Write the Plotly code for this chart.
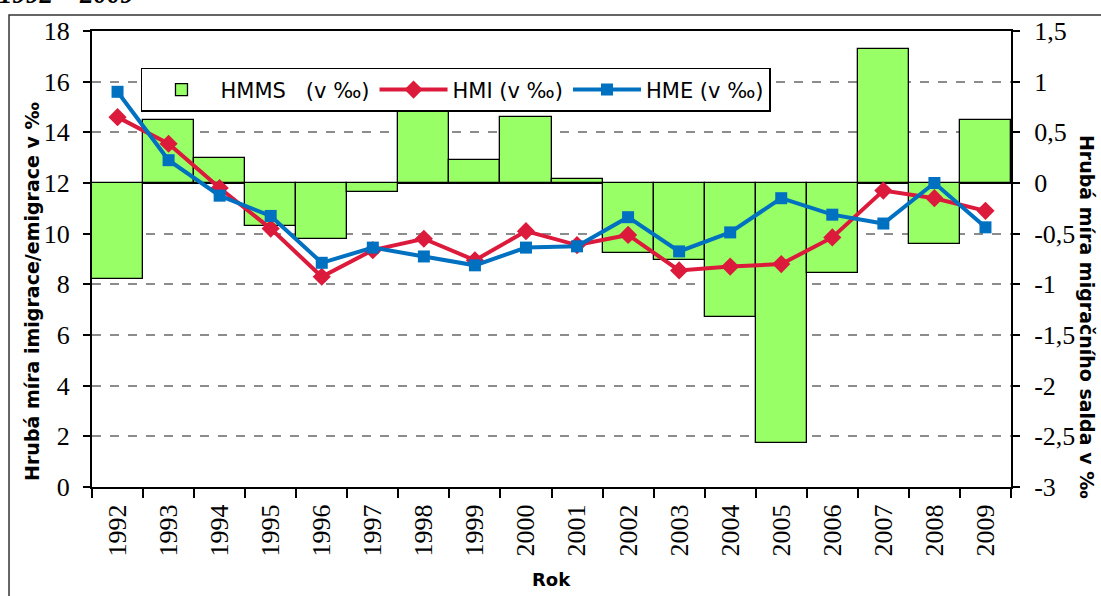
import plotly.graph_objects as go

years = [str(y) for y in range(1992, 2010)]

# hrubá míra migračního salda (pravá osa)
hmms = [-0.95, 0.62, 0.25, -0.42, -0.55, -0.09, 0.73, 0.23, 0.65, 0.04,
        -0.69, -0.76, -1.32, -2.57, -0.89, 1.32, -0.60, 0.62]
# hrubá míra imigrace (levá osa)
hmi = [14.6, 13.55, 11.8, 10.2, 8.3, 9.35, 9.8, 8.95, 10.1, 9.55,
       9.95, 8.55, 8.7, 8.8, 9.85, 11.7, 11.4, 10.9]
# hrubá míra emigrace (levá osa)
hme = [15.6, 12.9, 11.5, 10.7, 8.85, 9.45, 9.1, 8.75, 9.45, 9.5,
       10.65, 9.3, 10.05, 11.4, 10.75, 10.4, 12.0, 10.25]

left_ticks = [0, 2, 4, 6, 8, 10, 12, 14, 16, 18]
right_ticks = [-3, -2.5, -2, -1.5, -1, -0.5, 0, 0.5, 1, 1.5]
right_labels = ["-3", "-2,5", "-2", "-1,5", "-1", "-0,5", "0", "0,5", "1", "1,5"]

tick_font = dict(family="Liberation Serif", size=26, color="black")
sans = "DejaVu Sans"

fig = go.Figure()

# sloupce salda (primární osa vpravo, aby čáry byly nad nimi)
fig.add_trace(go.Bar(
    x=years, y=hmms, name="HMMS\u00a0\u00a0\u00a0(v ‰)",
    marker=dict(color="#99FF66", line=dict(color="black", width=1.3)),
    width=1, yaxis="y"
))

fig.add_trace(go.Scatter(
    x=years, y=hmi, name="HMI (v ‰)", mode="lines+markers",
    line=dict(color="#DC1A3C", width=4),
    marker=dict(symbol="diamond", size=14, color="#DC1A3C"),
    yaxis="y2"
))

fig.add_trace(go.Scatter(
    x=years, y=hme, name="HME (v ‰)", mode="lines+markers",
    line=dict(color="#0070C0", width=4),
    marker=dict(symbol="square", size=12, color="#0070C0"),
    yaxis="y2"
))

fig.update_layout(
    width=1101, height=596,
    margin=dict(l=92, r=90, t=31, b=109),
    paper_bgcolor="white", plot_bgcolor="white",
    bargap=0,
    showlegend=True,
    legend=dict(
        orientation="h", x=0.0533, y=0.919, xanchor="left", yanchor="top",
        bgcolor="white", bordercolor="black", borderwidth=1.5,
        font=dict(family=sans, size=21, color="black"),
        traceorder="normal", itemwidth=68,
    ),
    xaxis=dict(
        type="category", range=[-0.5, 17.5], tickangle=-90, tickfont=tick_font,
        showline=True, linecolor="black", linewidth=2, mirror=True,
        ticks="outside", ticklen=9, tickcolor="black", tickwidth=1.5,
        tickson="boundaries", showgrid=False, ticklabelstandoff=5,
    ),
    yaxis=dict(
        side="right", range=[-3, 1.5],
        tickvals=right_ticks, ticktext=right_labels, tickfont=tick_font,
        showline=True, linecolor="black", linewidth=2,
        ticks="outside", ticklen=7, tickcolor="black", tickwidth=1.5,
        showgrid=True, gridcolor="#8c8c8c", gridwidth=1.5, griddash="dash",
        zeroline=True, zerolinecolor="black", zerolinewidth=2,
        ticklabelstandoff=9,
    ),
    yaxis2=dict(
        side="left", overlaying="y", anchor="x", range=[0, 18],
        tickvals=left_ticks, tickfont=tick_font,
        showline=True, linecolor="black", linewidth=2,
        ticks="outside", ticklen=7, tickcolor="black", tickwidth=1.5,
        showgrid=False, zeroline=False, ticklabelstandoff=8,
    ),
    shapes=[dict(
        type="rect", xref="paper", yref="paper",
        x0=-0.0903, x1=1.3, y0=-0.6, y1=1.035,
        line=dict(color="#333333", width=1.5), layer="below",
    )],
    annotations=[
        dict(text="<b><i>1992 – 2009</i></b>", xref="paper", yref="paper",
             x=-0.103, y=1.044, xanchor="left", yanchor="bottom", showarrow=False,
             font=dict(family="Liberation Serif", size=27, color="black")),
        dict(text="<b>Rok</b>", xref="paper", yref="paper",
             x=0.5, y=-0.2018, xanchor="center", yanchor="middle", showarrow=False,
             font=dict(family=sans, size=18, color="black")),
        dict(text="<b>Hrubá míra imigrace/emigrace v ‰</b>", xref="paper", yref="paper",
             x=-0.0653, y=0.43, xanchor="center", yanchor="middle", showarrow=False,
             textangle=-90, font=dict(family=sans, size=19, color="black")),
        dict(text="<b>Hrubá míra migračního salda v ‰</b>", xref="paper", yref="paper",
             x=1.0827, y=0.373, xanchor="center", yanchor="middle", showarrow=False,
             textangle=90, font=dict(family=sans, size=19, color="black")),
    ],
)

fig.write_html("out.html", config={"displayModeBar": False},
               post_script="document.body.style.margin='0';")
